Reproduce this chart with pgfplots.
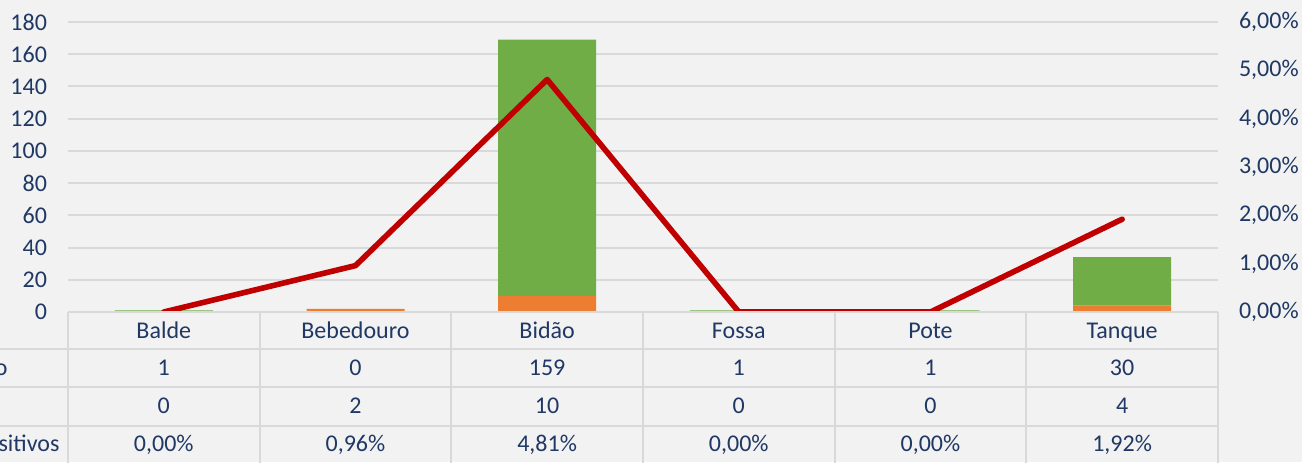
\documentclass[border=0pt]{standalone}
\usepackage{pgfplots}
\pgfplotsset{compat=1.18}
\usepackage{fontspec}
\setmainfont{Carlito}
\definecolor{bgc}{HTML}{F2F2F2}
\definecolor{gridc}{HTML}{D9D9D9}
\definecolor{txt}{HTML}{1F3864}
\definecolor{gr}{HTML}{70AD47}
\definecolor{org}{HTML}{ED7D31}
\definecolor{redl}{HTML}{C00000}
\begin{document}
\begin{tikzpicture}
\useasboundingbox (-34pt,156pt) rectangle (617pt,-75pt);
\clip (-34pt,156pt) rectangle (617pt,-75pt);
\fill[bgc] (-34pt,156pt) rectangle (617pt,-75pt);
\begin{axis}[
  at={(0pt,0pt)}, anchor=south west,
  scale only axis, width=575pt, height=145pt,
  xmin=-0.5, xmax=5.5, ymin=0, ymax=180,
  ytick={0,20,...,180}, xtick=\empty,
  axis line style={draw=none},
  major tick length=0pt,
  ymajorgrids, grid style={gridc, line width=1pt},
  ybar stacked, bar width=49pt,
  yticklabel style={font=\fontsize{12}{14}\selectfont, text=txt, xshift=-7pt},
  /pgf/number format/assume math mode=true,
]
\addplot[fill=org, draw=none] coordinates {(0,0) (1,2) (2,10) (3,0) (4,0) (5,4)};
\addplot[fill=gr, draw=none] coordinates {(0,1) (1,0) (2,159) (3,1) (4,1) (5,30)};
\end{axis}
\begin{axis}[
  at={(0pt,0pt)}, anchor=south west,
  scale only axis, width=575pt, height=145pt,
  xmin=-0.5, xmax=5.5, ymin=0, ymax=6,
  axis y line*=right, axis x line=none,
  axis line style={draw=none},
  major tick length=0pt,
  xtick=\empty,
  ytick={0,1,...,6},
  yticklabels={{0,00\%},{1,00\%},{2,00\%},{3,00\%},{4,00\%},{5,00\%},{6,00\%}},
  yticklabel style={font=\fontsize{12}{14}\selectfont, text=txt, xshift=7pt},
]
\addplot[redl, line width=2.8pt, line cap=round, line join=round] coordinates {(0,0) (1,0.96) (2,4.81) (3,0) (4,0) (5,1.92)};
\end{axis}
\begin{scope}[x=0.5pt,y=-0.5pt,shift={(-34pt,156pt)}]
  \draw[gridc, line width=1pt] (68,312) -- (1218,312);
  \foreach \yy in {349,387,426} \draw[gridc, line width=1pt] (0,\yy) -- (1218,\yy);
  \foreach \k in {0,...,6} \draw[gridc, line width=1pt] ({68+191.667*\k},312) -- ({68+191.667*\k},470);
  \begin{scope}[every node/.style={font=\fontsize{12}{14}\selectfont, text=txt, inner sep=0pt, anchor=base}]
  \foreach \n [count=\i from 0] in {Balde,Bebedouro,Bidão,Fossa,Pote,Tanque}
    \node at ({163.8+191.667*\i},338) {\n};
  \foreach \n [count=\i from 0] in {1,0,159,1,1,30}
    \node at ({163.8+191.667*\i},375) {\n};
  \foreach \n [count=\i from 0] in {0,2,10,0,0,4}
    \node at ({163.8+191.667*\i},413) {\n};
  \foreach \n [count=\i from 0] in {{0,00\%},{0,96\%},{4,81\%},{0,00\%},{0,00\%},{1,92\%}}
    \node at ({163.8+191.667*\i},451) {\n};
  \node[anchor=base west] at (-79,375) {Negativo};
  \node[anchor=base west] at (-79,413) {Positivo};
  \node[anchor=base west] at (-79,451) {\% de Positivos};
  \end{scope}
\end{scope}
\end{tikzpicture}
\end{document}
